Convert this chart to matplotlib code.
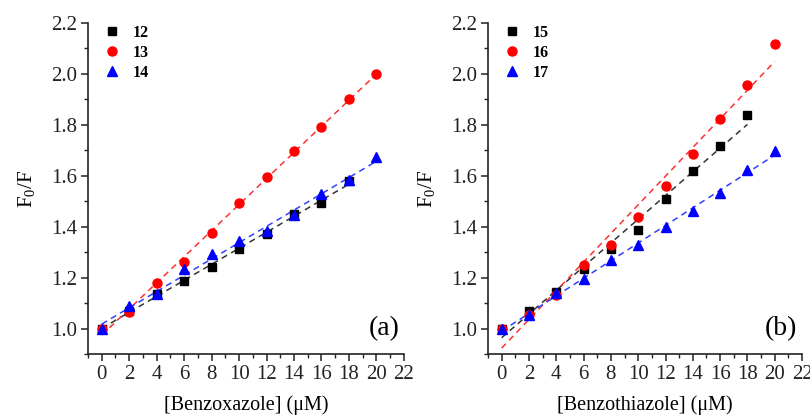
import numpy as np
import matplotlib
matplotlib.use('Agg')
import matplotlib.pyplot as plt
from matplotlib.ticker import MultipleLocator

plt.rcParams['font.family'] = 'Liberation Serif'
plt.rcParams['mathtext.fontset'] = 'custom'
plt.rcParams['mathtext.rm'] = 'Liberation Serif'
plt.rcParams['mathtext.it'] = 'Liberation Serif:italic'

# concentrations (uM)
conc = [0, 2, 4, 6, 8, 10, 12, 14, 16, 18, 20]

# panel (a): benzoxazole
a_labels = ['12', '13', '14']
a_12 = [1.000, 1.070, 1.135, 1.186, 1.240, 1.314, 1.371, 1.448, 1.494, 1.580]
a_13 = [1.000, 1.063, 1.178, 1.263, 1.375, 1.493, 1.596, 1.697, 1.790, 1.900, 2.000]
a_14 = [1.000, 1.088, 1.135, 1.235, 1.294, 1.345, 1.383, 1.444, 1.528, 1.585, 1.672]

# panel (b): benzothiazole
b_labels = ['15', '16', '17']
b_15 = [1.000, 1.068, 1.144, 1.233, 1.314, 1.387, 1.507, 1.620, 1.716, 1.839]
b_16 = [1.000, 1.055, 1.130, 1.248, 1.329, 1.440, 1.559, 1.687, 1.823, 1.958, 2.117]
b_17 = [1.000, 1.052, 1.141, 1.196, 1.268, 1.327, 1.397, 1.460, 1.533, 1.621, 1.699]

markers = ['s', 'o', '^']
colors = ['black', 'red', 'blue']
line_colors = ['#333333', '#ff3030', '#3040ff']
msizes = [6, 6.5, 7]


def panel(ax, series, labels, xlabel, tag):
    for y, lab, m, c, lc, ms in zip(series, labels, markers, colors,
                                    line_colors, msizes):
        x = np.array(conc[:len(y)])
        y = np.array(y)
        ax.plot(x, y, linestyle='', marker=m, color=c, markersize=ms,
                label=lab, zorder=3)
        # linear Stern-Volmer fit
        m_, b_ = np.polyfit(x, y, 1)
        ax.plot(x, m_ * x + b_, linestyle=(0, (4, 3)), color=lc,
                linewidth=1.1, zorder=2)

    ax.set_xlim(-1, 22)
    ax.set_ylim(0.9, 2.2)
    ax.xaxis.set_major_locator(MultipleLocator(2))
    ax.xaxis.set_minor_locator(MultipleLocator(1))
    ax.yaxis.set_minor_locator(MultipleLocator(0.1))
    ax.set_yticks([1.0, 1.2, 1.4, 1.6, 1.8, 2.0, 2.2])
    ax.yaxis.set_major_formatter(plt.FormatStrFormatter('%.1f'))
    for s in ['top', 'right']:
        ax.spines[s].set_visible(False)
    for s in ['left', 'bottom']:
        ax.spines[s].set_linewidth(1.2)
        ax.spines[s].set_color('#222222')
    ax.tick_params(which='major', direction='out', length=5, width=1.1,
                   labelsize=15, colors='#222222', pad=3)
    ax.tick_params(which='minor', direction='out', length=3, width=1.0,
                   colors='#222222')
    ax.set_xlabel(xlabel, fontsize=14.5, labelpad=8)
    ax.set_ylabel('F$_0$/F', fontsize=15, labelpad=10)
    ax.text(0.985, 0.04, tag, transform=ax.transAxes, ha='right',
            va='bottom', fontsize=20)
    ax.legend(loc='upper left', frameon=False,
              prop={'weight': 'bold', 'size': 11.5},
              handletextpad=0.7, borderaxespad=0.0,
              labelspacing=0.25, handlelength=1.2,
              bbox_to_anchor=(0.024, 1.013))


fig = plt.figure(figsize=(8.1, 4.15), dpi=100)
ax1 = fig.add_axes([0.1086, 0.147, 0.390, 0.7976])
ax2 = fig.add_axes([0.6025, 0.147, 0.3877, 0.7976])

panel(ax1, [a_12, a_13, a_14], a_labels, '[Benzoxazole] (\u03bcM)', '(a)')
panel(ax2, [b_15, b_16, b_17], b_labels, '[Benzothiazole] (\u03bcM)', '(b)')

fig.savefig('out.png', dpi=100)
